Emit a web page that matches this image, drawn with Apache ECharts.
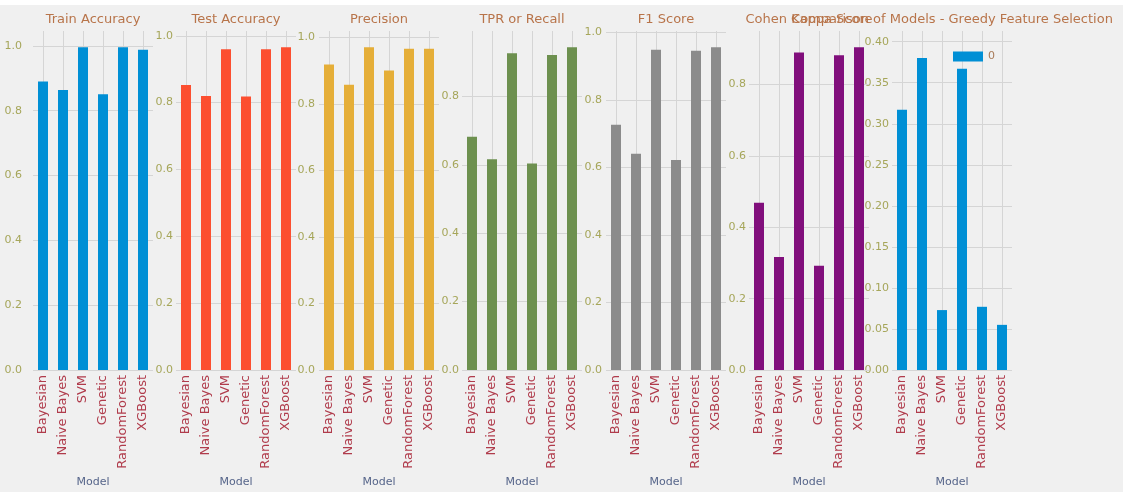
<!DOCTYPE html>
<html>
<head>
<meta charset="utf-8">
<script src="https://cdn.jsdelivr.net/npm/echarts@6/dist/echarts.min.js"></script>
<style>
  html, body { margin: 0; padding: 0; background: #f0f0f0; }
  #chart { width: 1123px; height: 492px; }
</style>
</head>
<body>
<div id="chart"></div>
<script>
// Model names shared by every panel
const models = ['Bayesian', 'Naive Bayes', 'SVM', 'Genetic', 'RandomForest', 'XGBoost'];

// Metric values per model
const trainAccuracy   = [0.890, 0.864, 0.996, 0.851, 0.996, 0.988];
const testAccuracy    = [0.853, 0.820, 0.960, 0.818, 0.960, 0.966];
const precision       = [0.919, 0.858, 0.971, 0.901, 0.966, 0.966];
const recall          = [0.682, 0.616, 0.926, 0.604, 0.921, 0.944];
const f1Score         = [0.726, 0.640, 0.948, 0.622, 0.945, 0.956];
const cohenKappa      = [0.469, 0.317, 0.890, 0.292, 0.882, 0.905];
const greedySelection = [0.317, 0.380, 0.073, 0.367, 0.077, 0.055];

const panelTitles = ['Train Accuracy', 'Test Accuracy', 'Precision', 'TPR or Recall',
                     'F1 Score', 'Cohen Kappa Score', 'Comparison of Models - Greedy Feature Selection'];
const panelData = [trainAccuracy, testAccuracy, precision, recall, f1Score, cohenKappa, greedySelection];
const seriesNames = ['Train Accuracy', 'Test Accuracy', 'Precision', 'TPR or Recall', 'F1 Score', 'Cohen Kappa Score', '0'];
const tickStep = [0.2, 0.2, 0.2, 0.2, 0.2, 0.2, 0.05];
const tickDecimals = [1, 1, 1, 1, 1, 1, 2];

// Layout and styling
const colors = ['#008fd5', '#fc4f30', '#e5ae38', '#6d904f', '#8b8b8b', '#810f7c', '#008fd5'];
const gridLeft = [33, 176, 319, 462, 606, 749, 892];
const gridWidth = 120;
const gridTop = 31;
const gridHeight = 339;
const labelMargin = [11, 3, 4, 3, 4, 3, 3];
// upper y limit: 5% headroom above the tallest bar
const yMax = panelData.map((d, i) => i === 6 ? 0.413 : Math.max(...d) * 1.05);

const FONT = 'DejaVu Sans';
const gridColor = '#d5d5d5';

// grid line values at each whole tick step below the upper limit
function gridValues(i) {
  const out = [];
  for (let k = 0; k * tickStep[i] <= yMax[i] + 1e-9; k++) {
    out.push(+(k * tickStep[i]).toFixed(tickDecimals[i]));
  }
  return out;
}

const grids = [], xAxes = [], yAxes = [], series = [], graphics = [];

graphics.push({
  type: 'rect', silent: true, z: 0,
  shape: { x: 0, y: 0, width: 1123, height: 5 },
  style: { fill: '#ffffff' }
});

panelData.forEach((values, i) => {
  grids.push({
    left: gridLeft[i], top: gridTop, width: gridWidth, height: gridHeight,
    containLabel: false, outerBoundsMode: 'none'
  });
  xAxes.push({
    type: 'category', gridIndex: i, data: models,
    axisLine: { show: false }, axisTick: { show: false },
    axisLabel: {
      interval: 0, rotate: 90, margin: 5,
      color: '#b03c4c', fontSize: 13, fontFamily: FONT
    },
    splitLine: { show: false },
    name: 'Model', nameLocation: 'middle', nameGap: 99,
    nameTextStyle: { color: '#56658a', fontSize: 11, fontFamily: FONT }
  });
  yAxes.push({
    type: 'value', gridIndex: i, min: 0, max: yMax[i], interval: tickStep[i],
    axisLine: { show: false }, axisTick: { show: false },
    axisLabel: {
      showMaxLabel: false, margin: labelMargin[i],
      color: '#a6a65a', fontSize: 11, fontFamily: FONT,
      formatter: v => v.toFixed(tickDecimals[i])
    },
    splitLine: { show: false }
  });
  series.push({
    type: 'bar', name: seriesNames[i], xAxisIndex: i, yAxisIndex: i,
    data: values, barWidth: '50%', z: 2,
    itemStyle: { color: colors[i] },
    markLine: {
      silent: true, symbol: 'none', z: 1, animation: false,
      label: { show: false },
      lineStyle: { color: gridColor, width: 1, type: 'solid' },
      emphasis: { disabled: true },
      data: models.map(m => ({ xAxis: m }))
        .concat(gridValues(i).map(v => ({ yAxis: v })))
    }
  });
  graphics.push({
    type: 'text', silent: true, z: 10,
    x: gridLeft[i] + gridWidth / 2, y: 20,
    style: {
      text: panelTitles[i], fill: '#b8744a',
      fontSize: 13, fontFamily: FONT,
      align: 'center', verticalAlign: 'middle',
      textAlign: 'center', textVerticalAlign: 'middle'
    }
  });
});

const chart = echarts.init(document.getElementById('chart'), null, { renderer: 'canvas' });
chart.setOption({
  backgroundColor: '#f0f0f0',
  animation: false,
  grid: grids,
  xAxis: xAxes,
  yAxis: yAxes,
  series: series,
  legend: {
    data: ['0'], left: 948, top: 46,
    icon: 'rect', itemWidth: 30, itemHeight: 10,
    textStyle: { color: '#a87a58', fontSize: 11, fontFamily: FONT },
    selectedMode: false
  },
  graphic: graphics
});
</script>
</body>
</html>
